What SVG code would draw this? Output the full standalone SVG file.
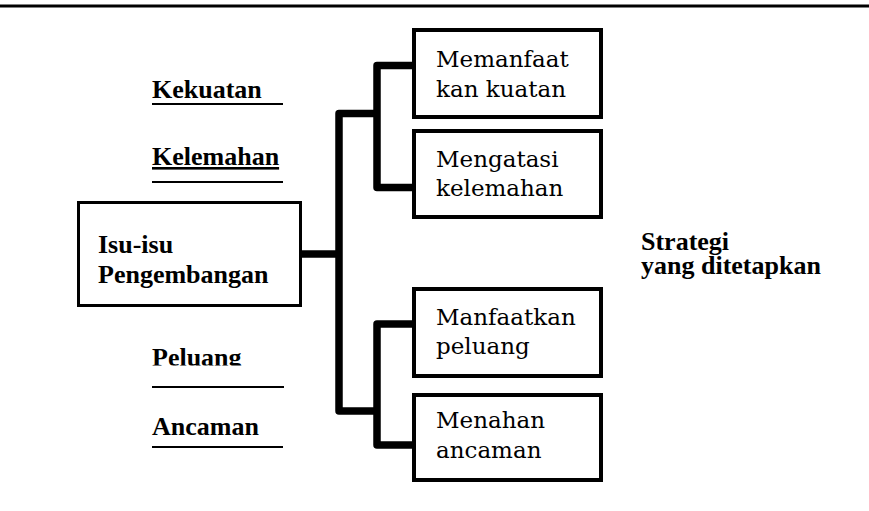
<svg xmlns="http://www.w3.org/2000/svg" width="869" height="511" viewBox="0 0 869 511">
  <style>
    .label { font-family: 'Liberation Serif', 'Times New Roman', serif; font-weight: 700; font-size: 26px; fill: #000; }
    .box-text { font-family: 'DejaVu Serif', 'Liberation Serif', serif; font-size: 23px; fill: #000; }
    .box { fill: #fff; stroke: #000; stroke-width: 4; }
    .main-box { fill: #fff; stroke: #000; stroke-width: 3; }
    .rule { stroke: #000; stroke-width: 2; }
    .conn { fill: none; stroke: #000; stroke-width: 7.5; stroke-linejoin: round; }
  </style>
  <defs>
    <clipPath id="peluang-clip">
      <rect x="140" y="330" width="160" height="35.5"/>
    </clipPath>
  </defs>
  <rect width="869" height="511" fill="#fff"/>

  <!-- header rule -->
  <line x1="0" y1="6" x2="869" y2="6" stroke="#000" stroke-width="3"/>

  <!-- connectors -->
  <g id="connectors">
    <path class="conn" d="M302 254 H339"/>
    <path class="conn" d="M377 113.5 H339 V411 H377"/>
    <path class="conn" d="M412 65.5 H377 V187.5 H412"/>
    <path class="conn" d="M412 324 H377 V445 H412"/>
  </g>

  <!-- SWOT labels -->
  <g id="kekuatan">
    <text class="label" x="152" y="98" font-family="Liberation Serif, serif">Kekuatan</text>
    <line class="rule" x1="152" y1="104" x2="283" y2="104"/>
  </g>
  <g id="kelemahan">
    <text class="label" x="152" y="165" font-family="Liberation Serif, serif" text-decoration="underline">Kelemahan</text>
    <line class="rule" x1="152" y1="182" x2="283" y2="182"/>
  </g>
  <g id="peluang">
    <text class="label" x="152" y="366" font-family="Liberation Serif, serif" clip-path="url(#peluang-clip)">Peluang</text>
    <line class="rule" x1="152" y1="387" x2="284" y2="387"/>
  </g>
  <g id="ancaman">
    <text class="label" x="152" y="435" font-family="Liberation Serif, serif">Ancaman</text>
    <line class="rule" x1="152" y1="447" x2="283" y2="447"/>
  </g>

  <!-- central issue box -->
  <g id="isu-isu">
    <rect class="main-box" x="78.5" y="202.5" width="222" height="103"/>
    <text class="label" x="98" y="253">Isu-isu</text>
    <text class="label" x="98" y="283">Pengembangan</text>
  </g>

  <!-- strategy boxes -->
  <g id="memanfaatkan-kuatan">
    <rect class="box" x="414" y="30" width="187" height="87"/>
    <text class="box-text" x="436" y="67">Memanfaat</text>
    <text class="box-text" x="436" y="97">kan kuatan</text>
  </g>
  <g id="mengatasi-kelemahan">
    <rect class="box" x="414" y="131" width="187" height="86"/>
    <text class="box-text" x="436" y="167">Mengatasi</text>
    <text class="box-text" x="436" y="196">kelemahan</text>
  </g>
  <g id="manfaatkan-peluang">
    <rect class="box" x="414" y="289" width="187" height="87"/>
    <text class="box-text" x="436" y="325">Manfaatkan</text>
    <text class="box-text" x="436" y="354">peluang</text>
  </g>
  <g id="menahan-ancaman">
    <rect class="box" x="414" y="395" width="187" height="85"/>
    <text class="box-text" x="436" y="428">Menahan</text>
    <text class="box-text" x="436" y="458">ancaman</text>
  </g>

  <!-- outcome label -->
  <g id="strategi">
    <text class="label" x="641" y="250">Strategi</text>
    <text class="label" x="641" y="274">yang ditetapkan</text>
  </g>
</svg>
